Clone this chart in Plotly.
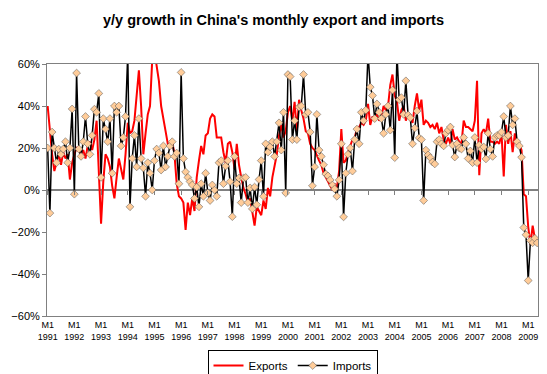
import plotly.graph_objects as go

years = list(range(1991, 2010))
tick_labels = [f"M1<br>{y}" for y in years]

exports = [
    # 1991
    40, 27, 17, 9, 13, 17, 12, 18, 15, 17, 5, 13,
    # 1992
    17, 20, 19, 17, 19, 15, 21, 23, 19, 24, 33, 7,
    # 1993
    -16, 4, 17, 15, 11, 2, -4, 6, 15, 10, 5, 17,
    # 1994
    32, 27, 28, 33, 45, 57, 40, 17, 27, 36, 40, 62,
    # 1995
    66, 58, 52, 40, 33, 28, 22, 21, 23, 17, 3, -3,
    # 1996
    -4, -6, -19, -6, -12, -4, -10, 6, 14, 21, 17, 26,
    # 1997
    27, 34, 36, 35, 25, 25, 25, 18, 13, 22, 23, 18,
    # 1998
    10, 22, 12, 6, 1, -2, -6, -4, -10, -17, -8, -10,
    # 1999
    -12, -5, -9, 1, -3, 6, 12, 17, 26, 31, 25, 28,
    # 2000
    37, 40, 33, 42, 28, 43, 38, 34, 28, 27, 22, 20,
    # 2001
    19, 16, 14, 12, 8, 6, 4, 2, 0, 3, 1, 9,
    # 2002
    29, 13, 14, 18, 21, 24, 25, 29, 30, 32, 31, 33,
    # 2003
    41, 31, 35, 33, 36, 33, 35, 40, 38, 40, 50, 55,
    # 2004
    45, 42, 33, 38, 40, 33, 37, 34, 32, 40, 46, 38,
    # 2005
    43, 31, 33, 32, 30, 31, 29, 32, 27, 30, 24, 22,
    # 2006
    25, 22, 29, 24, 25, 23, 22, 33, 30, 30, 29, 28,
    # 2007
    33, 52, 7, 27, 29, 27, 34, 23, 23, 22, 23, 22,
    # 2008
    27, 6.5, 31, 22, 28, 18, 27, 21, 22, 19, -2, -3,
    # 2009
    -17.5, -26, -17, -23, -26,
]

imports = [
    # 1991
    20, -11, 27.6, 20, 13, 19.5, 17, 19.5, 23, 13, 20, 38.6,
    # 1992
    -2, 55.7, 19.5, 16, 23, 35, 22, 17, 26, 38.5, 37, 46,
    # 1993
    6, 34, 29, 23, 34, 8, 40, 37, 40, 21, 25, 35,
    # 1994
    65, -8, 15, 26, 11, 34, 15, 10.5, -3, 13, 8, 0,
    # 1995
    14, 19.5, 17.6, 9.5, 21, 11, 16, 21, 23, 16, 17.6, 3,
    # 1996
    56, 15, 8.6, 6, 4, 2.4, -4, 1.4, -8, 3, -3, 8,
    # 1997
    -1.4, -5, 2.4, 0, -3, 13, 14, 3, 11.4, 14, 4, -12.7,
    # 1998
    16, 3, 5.7, -6, 5.7, 6, -6, 1, -9, 1.4, -7, 5,
    # 1999
    14, -3, 22, 18, 20.5, 23, 16, 23, 32, 19, 37, -1.4,
    # 2000
    55, 54, 24, 33, 24, 39.5, 40, 55, 36, 37, 27.6, 2,
    # 2001
    11, 36, 19, 16, 12, 7.6, 6.7, 4.8, 2.4, 0.5, -3, 4.8,
    # 2002
    22, -12.8, 8, 17, 20, 9, 24, 29, 22, 37, 33, 38,
    # 2003
    65, 49, 45, 34, 41, 37, 34, 27, 36, 40, 28.5, 47.6,
    # 2004
    15.4, 65, 43, 44, 36, 52, 35.7, 34.4, 22, 29.5, 37.6, 24.8,
    # 2005
    24, -5, 19, 16.7, 15.4, 13.3, 12.4, 23, 24, 22, 21, 27,
    # 2006
    28.5, 30, 21.4, 15.7, 22, 20, 19.5, 25, 22, 15, 18.6, 13,
    # 2007
    25, 13, 21.4, 19.5, 20.5, 14.8, 27, 19.5, 16, 25, 26, 26,
    # 2008
    27.6, 35, 25, 26, 40, 31, 34, 23, 21, 15.6, -17.9, -21.3,
    # 2009
    -43.1, -24.1, -25.1, -23, -25.2,
]

months = list(range(len(exports)))
tick_pos = [12 * k for k in range(len(years))]

FONT = "Arial, Liberation Sans, sans-serif"
GREY = "#808080"

fig = go.Figure()
fig.add_trace(go.Scatter(
    x=months, y=exports, name="Exports", mode="lines",
    line=dict(color="#FF0000", width=2),
))
fig.add_trace(go.Scatter(
    x=months, y=imports, name="Imports", mode="lines+markers",
    line=dict(color="#000000", width=1.5),
    marker=dict(symbol="diamond", size=6, color="#FFCC99",
                line=dict(color="#505050", width=0.5)),
))
# helper trace for the tick marks on the 0% category axis
fig.add_trace(go.Scatter(
    x=months, y=exports, xaxis="x2", mode="lines",
    line=dict(color="rgba(0,0,0,0)"), showlegend=False, hoverinfo="skip",
))

fig.update_layout(
    width=547, height=374,
    margin=dict(l=47, r=9, t=64, b=58, autoexpand=False),
    paper_bgcolor="white", plot_bgcolor="white",
    font=dict(family=FONT, color="black"),
    title=dict(text="<b>y/y growth in China's monthly export and imports</b>",
               x=0.5, xref="container", xanchor="center",
               y=1 - 20 / 374, yref="container", yanchor="middle",
               font=dict(size=14.5, family=FONT, color="black")),
    xaxis=dict(range=[-0.3, 220.4], tickvals=tick_pos, ticktext=tick_labels,
               tickfont=dict(size=9, family=FONT), ticks="",
               showline=True, mirror=True, linecolor=GREY, linewidth=1,
               showgrid=False, zeroline=False, automargin=False),
    xaxis2=dict(range=[-0.3, 220.4], overlaying="x", anchor="free", position=0.5,
                side="bottom", tickvals=tick_pos, showticklabels=False,
                ticks="outside", ticklen=4, tickcolor=GREY, tickwidth=1,
                showline=False, showgrid=False, zeroline=False),
    yaxis=dict(range=[-60, 60], dtick=20, ticksuffix="%",
               tickfont=dict(size=11, family=FONT),
               ticks="outside", ticklen=4, tickcolor=GREY,
               showline=True, mirror=True, linecolor=GREY, linewidth=1,
               showgrid=False, zeroline=True, zerolinecolor=GREY, zerolinewidth=2,
               automargin=False),
    legend=dict(orientation="h", x=0.5, xanchor="center", y=-0.135, yanchor="top",
                bordercolor="black", borderwidth=1, font=dict(size=11.5, family=FONT),
                itemwidth=30, tracegroupgap=0),
    showlegend=True,
)

fig.write_html("out.html", config={"displayModeBar": False},
               post_script="document.body.style.margin='0';document.body.style.padding='0';")
